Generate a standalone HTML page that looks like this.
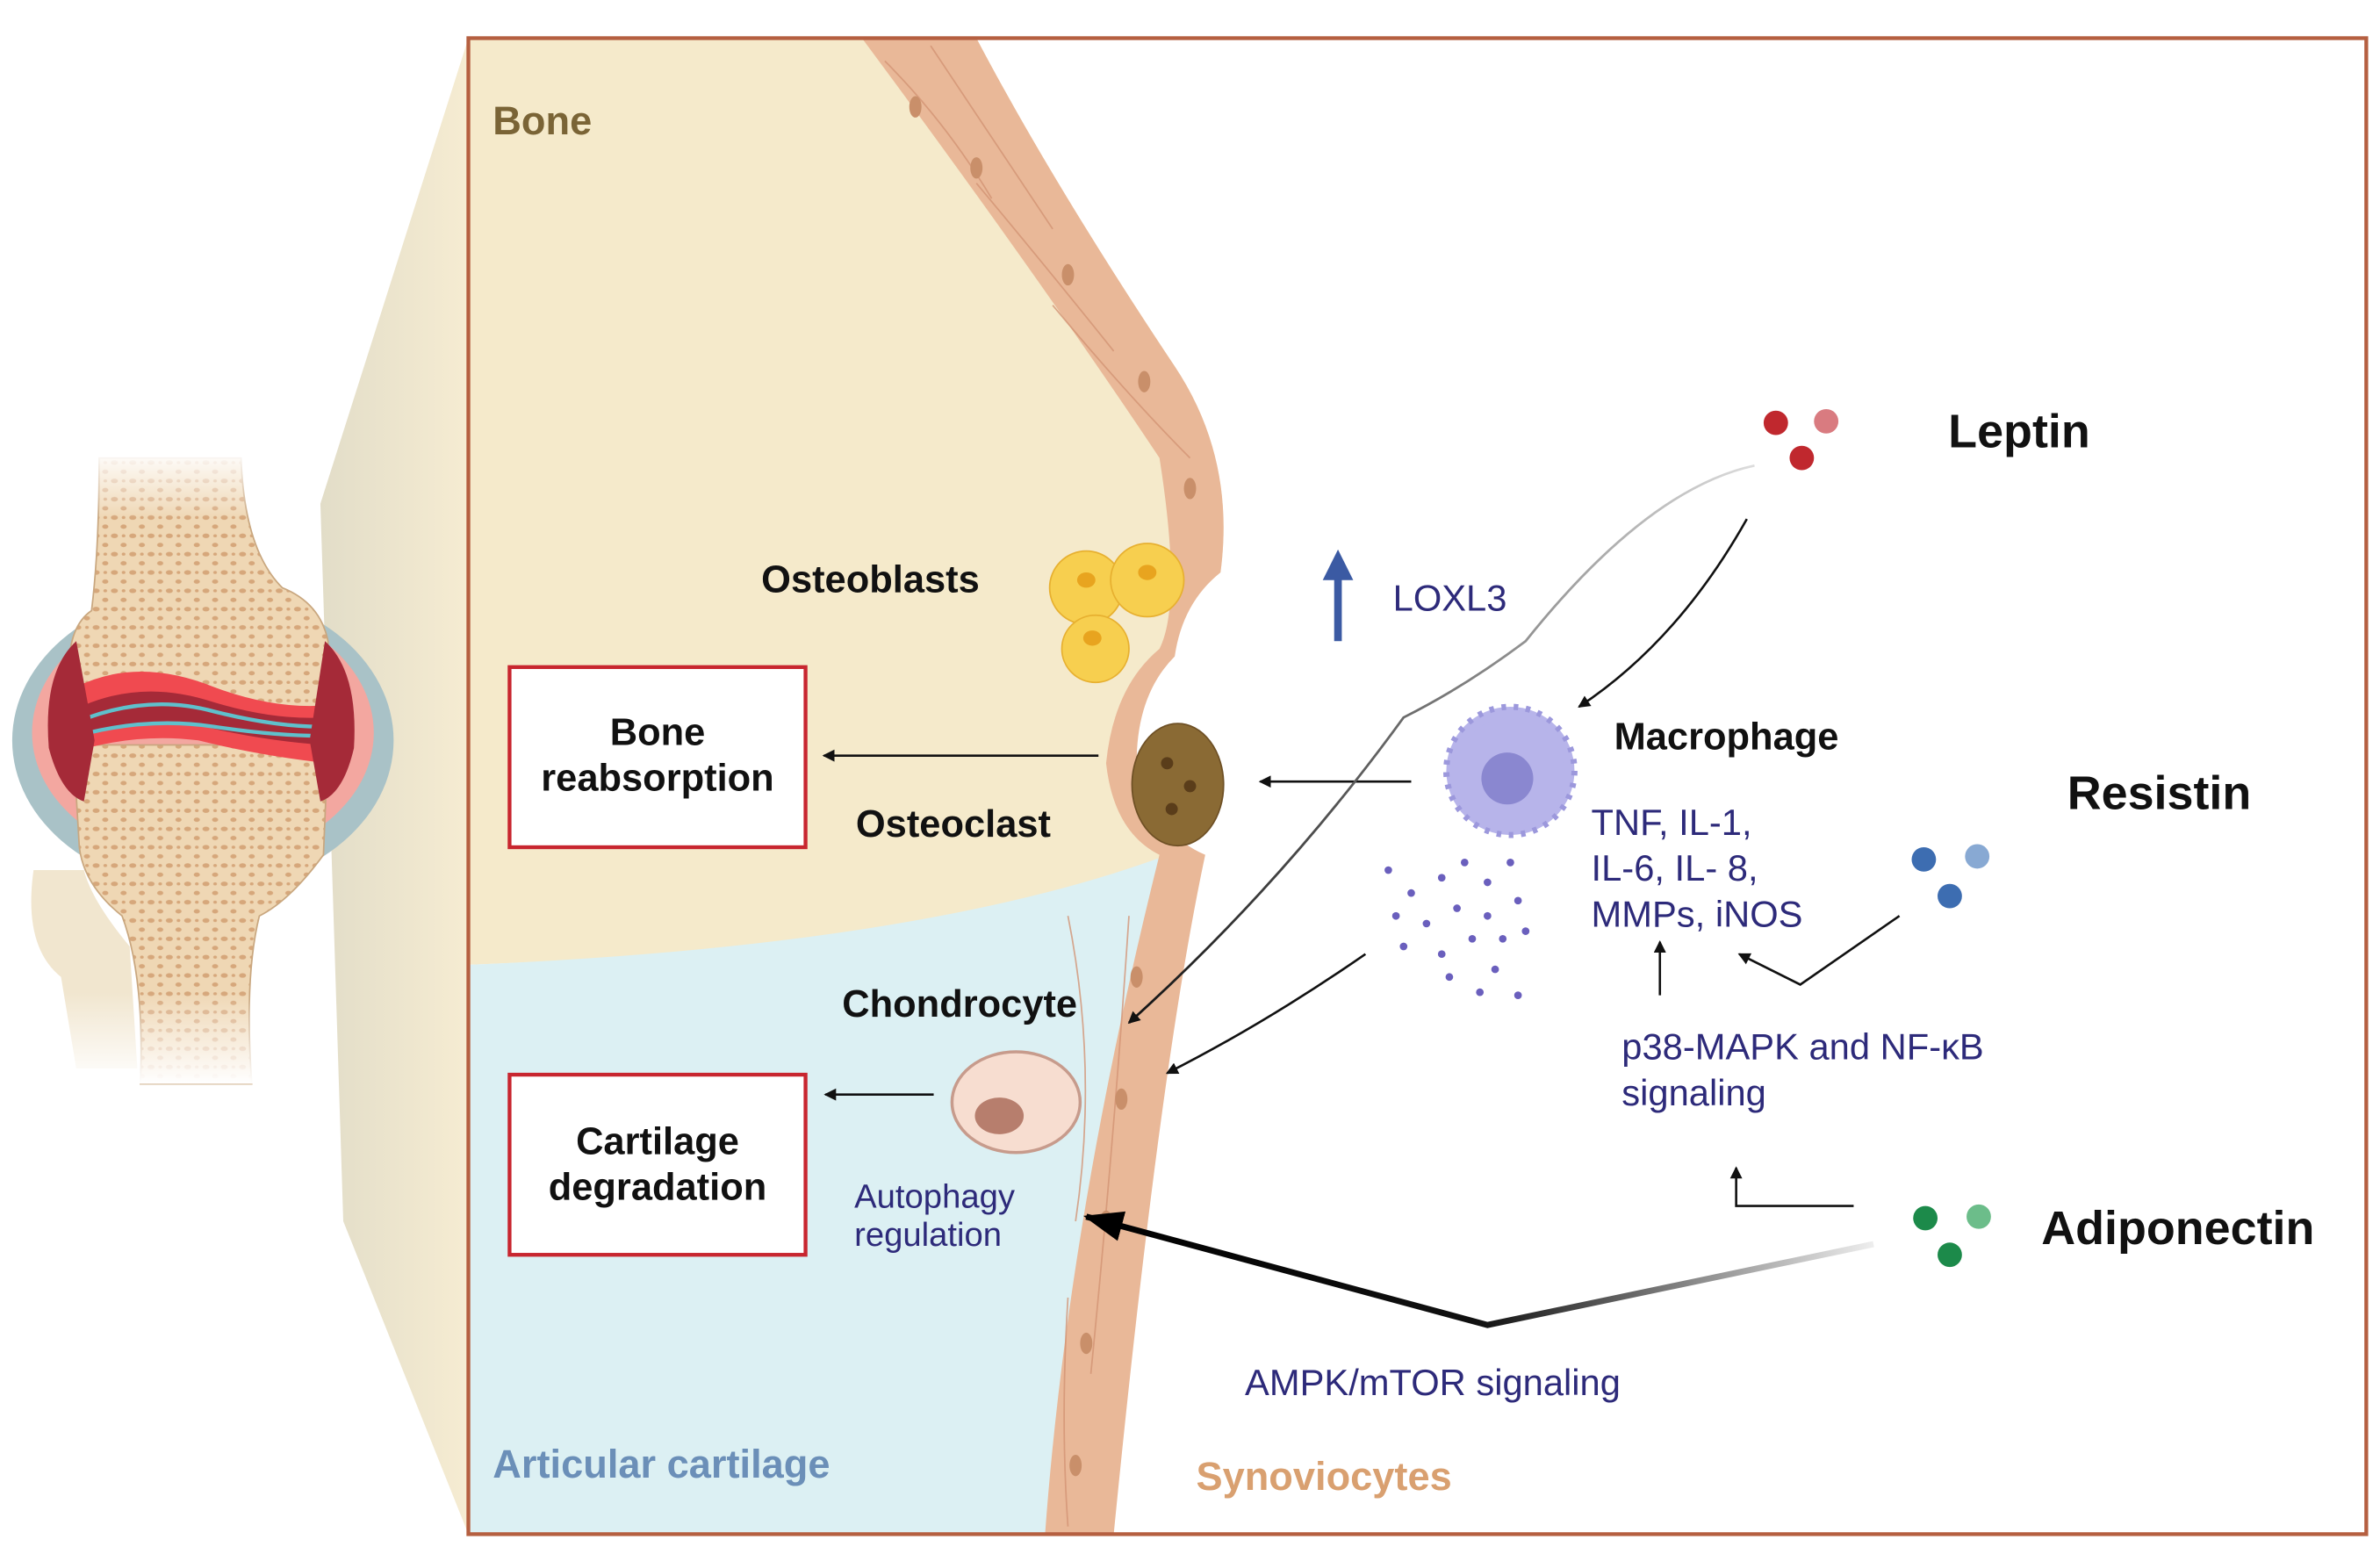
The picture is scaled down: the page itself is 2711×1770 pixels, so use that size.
<!DOCTYPE html>
<html><head><meta charset="utf-8"><style>
html,body{margin:0;padding:0;background:#fff;}
svg{display:block;}
text{font-family:"Liberation Sans",sans-serif;}
</style></head><body>
<svg width="2711" height="1770" viewBox="0 0 1560 1018" preserveAspectRatio="none" xmlns="http://www.w3.org/2000/svg">
<defs>
<linearGradient id="trap" x1="0" x2="1" y1="0" y2="0"><stop offset="0" stop-color="#e2ddc8"/><stop offset="1" stop-color="#f6ecd2"/></linearGradient>
<linearGradient id="fd" x1="0" x2="0" y1="0" y2="1"><stop offset="0" stop-color="#fff"/><stop offset="1" stop-color="#fff" stop-opacity="0"/></linearGradient>
<linearGradient id="fu" x1="0" x2="0" y1="1" y2="0"><stop offset="0" stop-color="#fff"/><stop offset="1" stop-color="#fff" stop-opacity="0"/></linearGradient>
<linearGradient id="grayL" x1="1" x2="0" y1="0" y2="0"><stop offset="0" stop-color="#ddd"/><stop offset="1" stop-color="#111"/></linearGradient>
<linearGradient id="grayA" x1="1" x2="0" y1="0" y2="0"><stop offset="0" stop-color="#eee"/><stop offset="0.5" stop-color="#111"/><stop offset="1" stop-color="#000"/></linearGradient>
<marker id="ah" markerWidth="8" markerHeight="8" refX="7" refY="4" orient="auto" markerUnits="userSpaceOnUse"><path d="M0,0 L8,4 L0,8 z" fill="#111"/></marker>
<marker id="ah2" markerWidth="26" markerHeight="20" refX="24" refY="10" orient="auto" markerUnits="userSpaceOnUse"><path d="M0,0 L26,10 L0,20 z" fill="#000"/></marker>
<pattern id="spong" width="12" height="12" patternUnits="userSpaceOnUse"><rect width="12" height="12" fill="#efd7b4"/><ellipse cx="3" cy="3" rx="2.3" ry="1.5" fill="#d6a77b"/><ellipse cx="9" cy="9" rx="2" ry="1.4" fill="#d6a77b"/><ellipse cx="9" cy="3" rx="1.2" ry="1" fill="#d6a77b"/></pattern>
</defs>

<!-- trapezoid zoom -->
<polygon points="307,25 307,1005 225,800 210,330" fill="url(#trap)"/>

<!-- joint -->
<g>
<path d="M22,570 Q15,620 40,640 L50,700 L90,700 L85,620 Q60,590 55,570 Z" fill="#f1e6cf"/>
<ellipse cx="133" cy="485" rx="125" ry="98" fill="#a9c2c7"/>
<ellipse cx="133" cy="480" rx="112" ry="85" fill="#f3a7a0"/>
<path d="M65,300 L158,300 Q160,360 185,385 Q210,395 215,420 L215,475 L45,475 L45,440 Q45,410 60,400 Q65,360 65,300 Z" fill="url(#spong)" stroke="#c9a77f" stroke-width="1"/>
<path d="M48,488 L215,488 L212,560 Q190,590 170,600 Q160,640 165,710 L92,710 Q95,640 80,600 Q55,580 52,555 Z" fill="url(#spong)" stroke="#c9a77f" stroke-width="1"/>
<path d="M50,450 Q90,430 140,450 Q180,465 215,462 L215,500 Q170,495 130,485 Q90,480 50,492 Z" fill="#f04a50"/>
<path d="M55,462 Q95,445 140,460 Q180,472 212,470 L212,488 Q170,485 130,475 Q95,470 55,482 Z" fill="#a52a38"/>
<path d="M58,470 Q100,455 140,466 Q180,476 210,476" stroke="#5fc0cc" stroke-width="2.5" fill="none"/>
<path d="M58,480 Q100,470 140,476 Q180,482 210,482" stroke="#5fc0cc" stroke-width="2.5" fill="none"/>
<path d="M50,420 Q28,440 32,490 Q40,520 55,525 L62,485 Z" fill="#a52a38"/>
<path d="M213,420 Q235,440 232,490 Q225,520 210,525 L203,485 Z" fill="#a52a38"/>
<rect x="40" y="295" width="140" height="45" fill="url(#fd)"/>
<rect x="10" y="650" width="180" height="60" fill="url(#fu)"/>
</g>

<!-- main regions -->
<path d="M307,25 L640,25 Q690,120 770,240 Q810,300 800,375 Q770,400 760,430 Q730,460 740,520 Q755,555 785,560 L735,590 Q600,620 307,632 Z" fill="#f5eacb"/>
<path d="M307,632 Q600,620 760,562 L720,1005 L307,1005 Z" fill="#dcf0f3"/>
<!-- synoviocyte band -->
<path d="M565,25 L640,25 Q690,120 770,240 Q810,300 800,375 Q775,395 770,430 Q745,455 745,500 Q755,545 790,560 Q760,700 730,1005 L685,1005 Q700,800 760,560 Q730,545 725,500 Q730,450 760,425 Q775,395 760,300 Q680,180 565,25 Z" fill="#e9b898"/>
<g stroke="#d39475" stroke-width="1" fill="none" opacity="0.8">
<path d="M580,40 Q620,80 650,130"/><path d="M610,30 Q650,90 690,150"/><path d="M640,120 Q690,180 730,230"/><path d="M690,200 Q740,260 780,300"/>
<path d="M700,600 Q720,700 705,800"/><path d="M740,600 Q730,750 715,900"/><path d="M700,850 Q695,930 700,1000"/>
</g>
<g fill="#c98f6a"><ellipse cx="600" cy="70" rx="4" ry="7"/><ellipse cx="640" cy="110" rx="4" ry="7"/><ellipse cx="700" cy="180" rx="4" ry="7"/><ellipse cx="750" cy="250" rx="4" ry="7"/><ellipse cx="780" cy="320" rx="4" ry="7"/><ellipse cx="745" cy="640" rx="4" ry="7"/><ellipse cx="735" cy="720" rx="4" ry="7"/><ellipse cx="725" cy="800" rx="4" ry="7"/><ellipse cx="712" cy="880" rx="4" ry="7"/><ellipse cx="705" cy="960" rx="4" ry="7"/></g>

<!-- frame -->
<rect x="307" y="25" width="1244" height="980" fill="none" stroke="#b55f40" stroke-width="2.5"/>

<!-- osteoblasts -->
<g fill="#f7cf4f" stroke="#e7b030" stroke-width="1"><circle cx="712" cy="385" r="24"/><circle cx="752" cy="380" r="24"/><circle cx="718" cy="425" r="22"/></g>
<g fill="#e8a41f"><ellipse cx="712" cy="380" rx="6" ry="5"/><ellipse cx="752" cy="375" rx="6" ry="5"/><ellipse cx="716" cy="418" rx="6" ry="5"/></g>
<!-- osteoclast -->
<ellipse cx="772" cy="514" rx="30" ry="40" fill="#8a6a34" stroke="#6e5025"/>
<g fill="#5a3d1a"><circle cx="765" cy="500" r="4"/><circle cx="780" cy="515" r="4"/><circle cx="768" cy="530" r="4"/></g>
<!-- macrophage -->
<circle cx="990" cy="505" r="42" fill="#b7b4ea" stroke="#9c98dc" stroke-width="4" stroke-dasharray="3 5"/>
<circle cx="990" cy="505" r="35" fill="#b7b4ea"/>
<circle cx="988" cy="510" r="17" fill="#8a87d0"/>
<!-- particles -->
<g fill="#6a5fbd">
<circle cx="910" cy="570" r="2.5"/><circle cx="925" cy="585" r="2.5"/><circle cx="945" cy="575" r="2.5"/><circle cx="960" cy="565" r="2.5"/><circle cx="975" cy="578" r="2.5"/><circle cx="990" cy="565" r="2.5"/><circle cx="915" cy="600" r="2.5"/><circle cx="935" cy="605" r="2.5"/><circle cx="955" cy="595" r="2.5"/><circle cx="975" cy="600" r="2.5"/><circle cx="995" cy="590" r="2.5"/><circle cx="920" cy="620" r="2.5"/><circle cx="945" cy="625" r="2.5"/><circle cx="965" cy="615" r="2.5"/><circle cx="985" cy="615" r="2.5"/><circle cx="1000" cy="610" r="2.5"/><circle cx="970" cy="650" r="2.5"/><circle cx="995" cy="652" r="2.5"/><circle cx="950" cy="640" r="2.5"/><circle cx="980" cy="635" r="2.5"/>
</g>
<!-- chondrocyte -->
<ellipse cx="666" cy="722" rx="42" ry="33" fill="#f7ddd0" stroke="#c79b8c" stroke-width="2"/>
<ellipse cx="655" cy="731" rx="16" ry="12" fill="#b77e6d"/>

<!-- dots -->
<g fill="#c0282e"><circle cx="1164" cy="277" r="8"/><circle cx="1181" cy="300" r="8"/></g><circle cx="1197" cy="276" r="8" fill="#d97b80"/>
<g fill="#3d6db1"><circle cx="1261" cy="563" r="8"/><circle cx="1278" cy="587" r="8"/></g><circle cx="1296" cy="561" r="8" fill="#88a9d3"/>
<g fill="#1c8a4a"><circle cx="1262" cy="798" r="8"/><circle cx="1278" cy="822" r="8"/></g><circle cx="1297" cy="797" r="8" fill="#6cbd8a"/>

<!-- boxes -->
<rect x="334" y="437" width="194" height="118" fill="#fff" stroke="#c8262f" stroke-width="2.5"/>
<rect x="334" y="704" width="194" height="118" fill="#fff" stroke="#c8262f" stroke-width="2.5"/>

<!-- arrows -->
<g stroke="#111" stroke-width="1.5" fill="none" marker-end="url(#ah)">
<line x1="720" y1="495" x2="540" y2="495"/>
<line x1="925" y1="512" x2="826" y2="512"/>
<line x1="612" y1="717" x2="541" y2="717"/>
<path d="M1145,340 Q1100,420 1035,463"/>
<path d="M895,625 Q830,670 765,703"/>
<path d="M1245,600 L1180,645 L1140,625"/>
<line x1="1088" y1="652" x2="1088" y2="617"/>
<path d="M1215,790 L1138,790 L1138,765"/>
</g>
<path d="M1150,305 Q1080,320 1000,420 Q960,450 920,470 Q840,580 740,670" stroke="url(#grayL)" stroke-width="1.6" fill="none" marker-end="url(#ah)"/>
<path d="M1228,815 L975,868 L712,797" stroke="url(#grayA)" stroke-width="4" fill="none" marker-end="url(#ah2)"/>
<path d="M877,420 L877,375" stroke="#3b5aa3" stroke-width="5"/><path d="M867,380 L877,360 L887,380 Z" fill="#3b5aa3"/>

<!-- text -->
<g font-weight="bold" fill="#111">
<text x="323" y="88" font-size="26" fill="#7a6436">Bone</text>
<text x="499" y="388" font-size="25">Osteoblasts</text>
<text x="431" y="488" font-size="25" text-anchor="middle">Bone</text>
<text x="431" y="518" font-size="25" text-anchor="middle">reabsorption</text>
<text x="561" y="548" font-size="25">Osteoclast</text>
<text x="552" y="666" font-size="25">Chondrocyte</text>
<text x="431" y="756" font-size="25" text-anchor="middle">Cartilage</text>
<text x="431" y="786" font-size="25" text-anchor="middle">degradation</text>
<text x="1058" y="491" font-size="25">Macrophage</text>
<text x="1277" y="293" font-size="31">Leptin</text>
<text x="1355" y="530" font-size="31">Resistin</text>
<text x="1338" y="815" font-size="31">Adiponectin</text>
<text x="323" y="968" font-size="26" fill="#6b8fb8">Articular cartilage</text>
<text x="784" y="976" font-size="26" fill="#d9a070">Synoviocytes</text>
</g>
<g fill="#2d2a7a" font-size="24">
<text x="913" y="400">LOXL3</text>
<text x="1043" y="547">TNF, IL-1,</text>
<text x="1043" y="577">IL-6, IL- 8,</text>
<text x="1043" y="607">MMPs, iNOS</text>
<text x="1063" y="694">p38-MAPK and NF-κB</text>
<text x="1063" y="724">signaling</text>
<text x="560" y="791" font-size="22">Autophagy</text>
<text x="560" y="816" font-size="22">regulation</text>
<text x="816" y="914">AMPK/mTOR signaling</text>
</g>
</svg>
</body></html>
